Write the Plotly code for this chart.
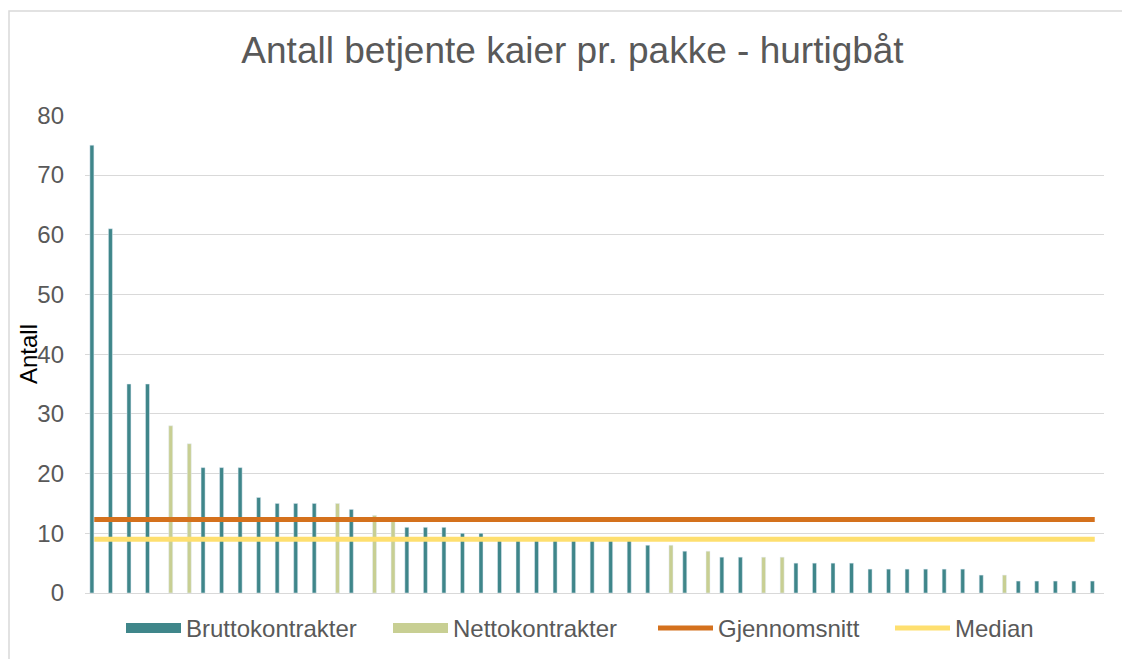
import numpy as np
import plotly.graph_objects as go

# ---- data ----
kaier = [str(i) for i in range(1, 56)]  # 55 unlabeled packages
bruttokontrakter = [75, 61, 35, 35, None, None, 21, 21, 21, 16, 15, 15, 15, None, 14, None, None,
                    11, 11, 11, 10, 10, 9, 9, 9, 9, 9, 9, 9, 9, 8, None, 7, None, 6, 6, None, None,
                    5, 5, 5, 5, 4, 4, 4, 4, 4, 4, 3, None, 2, 2, 2, 2, 2]
nettokontrakter = [None, None, None, None, 28, 25, None, None, None, None, None, None, None, 15, None, 13, 12,
                   None, None, None, None, None, None, None, None, None, None, None, None, None, None, 8, None, 7,
                   None, None, 6, 6, None, None, None, None, None, None, None, None, None, None, None, 3,
                   None, None, None, None, None]
y_ticks = [0, 10, 20, 30, 40, 50, 60, 70, 80]

alle = [b if b is not None else n for b, n in zip(bruttokontrakter, nettokontrakter)]
gjennomsnitt = float(np.mean(alle))
median = float(np.median(alle))

TEAL = "#3F868A"
OLIVE = "#C8CF93"
ORANGE = "#D4711D"
YELLOW = "#FEDF6F"
GREY_TXT = "#595959"
GRID = "#D9D9D9"
FONT = "Liberation Sans, Arial, sans-serif"

fig = go.Figure()
fig.add_trace(go.Bar(x=kaier, y=bruttokontrakter, name="Bruttokontrakter", marker_color=TEAL,
                     legendgroup="brutto", showlegend=False))
fig.add_trace(go.Bar(x=kaier, y=nettokontrakter, name="Nettokontrakter", marker_color=OLIVE,
                     legendgroup="netto", showlegend=False))
# legend-only entries drawn as wide blocks (like the reference's legend keys)
fig.add_trace(go.Scatter(x=[None], y=[None], mode="lines", name="Bruttokontrakter",
                         legendgroup="brutto", line=dict(color=TEAL, width=13), legendwidth=197,
                         hoverinfo="skip"))
fig.add_trace(go.Scatter(x=[None], y=[None], mode="lines", name="Nettokontrakter",
                         legendgroup="netto", line=dict(color=OLIVE, width=13), legendwidth=195,
                         hoverinfo="skip"))
fig.add_trace(go.Scatter(x=[kaier[0], kaier[-1]], y=[gjennomsnitt, gjennomsnitt], mode="lines",
                         name="Gjennomsnitt", line=dict(color=ORANGE, width=5), legendwidth=167))
fig.add_trace(go.Scatter(x=[kaier[0], kaier[-1]], y=[median, median], mode="lines",
                         name="Median", line=dict(color=YELLOW, width=5), legendwidth=90))

# page has an 8px body margin; figure fills the rest of the 1130x659 window
W, H = 1122, 651
L, R, T, B = 77, 26, 107, 66
pw, ph = W - L - R, H - T - B

fig.update_layout(
    width=W, height=H,
    margin=dict(l=L, r=R, t=T, b=B, autoexpand=False),
    paper_bgcolor="white", plot_bgcolor="white",
    barmode="group", bargap=0.49, bargroupgap=0.15,
    font=dict(family=FONT, color=GREY_TXT, size=24),
    title=dict(text="Antall betjente kaier pr. pakke - hurtigbåt", x=564.5 / W, xanchor="center",
               y=1 - 42 / H, yanchor="middle", font=dict(size=37, color=GREY_TXT, family=FONT)),
    xaxis=dict(type="category", categoryarray=kaier, categoryorder="array", showticklabels=False,
               showgrid=False, ticks="", showline=False, zeroline=False),
    yaxis=dict(range=[0, 80.05], tickvals=y_ticks, showgrid=True, gridcolor=GRID, gridwidth=1,
               zeroline=True, zerolinecolor=GRID, zerolinewidth=1, showline=False, ticks="",
               ticklabelstandoff=20, tickfont=dict(size=24, color=GREY_TXT)),
    legend=dict(orientation="h", x=36 / pw, xanchor="left", y=-13 / ph, yanchor="top",
                font=dict(size=24, color=GREY_TXT), itemwidth=55, bgcolor="rgba(0,0,0,0)"),
    showlegend=True,
    annotations=[dict(text="Antall", xref="paper", yref="paper", x=(20 - L) / pw, y=0.5,
                      xanchor="center", yanchor="middle", textangle=-90, showarrow=False,
                      font=dict(size=24, color="#000000", family=FONT))],
    shapes=[dict(type="rect", xref="paper", yref="paper",
                 x0=(1 - L) / pw, x1=(1140 - L) / pw, y0=(585 - 670) / ph, y1=(585 - 3) / ph,
                 line=dict(color=GRID, width=1.5), fillcolor="rgba(0,0,0,0)", layer="below")],
)

fig.write_html("out.html")
